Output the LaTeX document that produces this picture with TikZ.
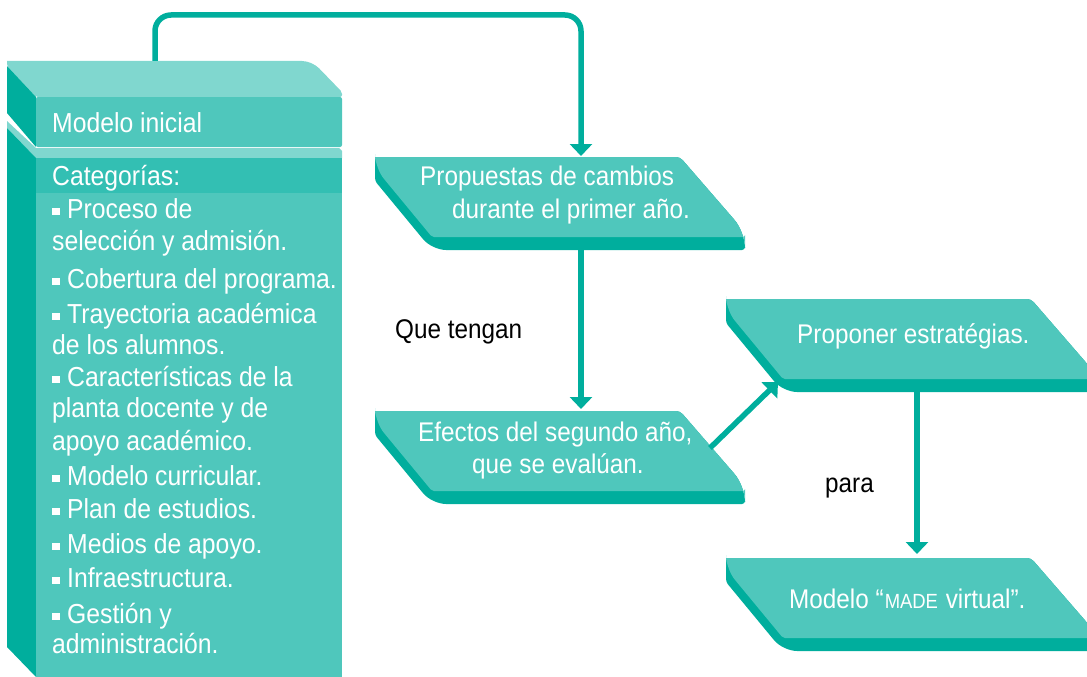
\documentclass[tikz,border=0pt]{standalone}
\usepackage{fontspec}
\setmainfont[FakeStretch=0.9]{Liberation Sans}
\usetikzlibrary{arrows.meta}
\definecolor{dk}{HTML}{00AE9D}
\definecolor{fr}{HTML}{4FC7BC}
\definecolor{lt}{HTML}{80D7CF}
\definecolor{bd}{HTML}{33BFB3}
\newcommand\fs{\fontsize{27}{31.5}\selectfont}
\newcommand\fsl{\fontsize{27.5}{31.5}\selectfont}
\newcommand\bul{\rule[3pt]{8pt}{7.5pt}\hspace{7pt}}
\newcommand\parpath{(0,11) -- (0,0) [rounded corners=4pt] -- (305,0) [rounded corners=16pt] -- (370,75) [rounded corners=2pt] -- (370,80) [rounded corners=2pt] -- (57,80) [rounded corners=14pt] -- (0,11) [rounded corners=3pt] -- cycle}
\newcommand\darkpath{(0,24) -- (0,0) [rounded corners=4pt] -- (305,0) [rounded corners=16pt] -- (370,75) [rounded corners=3pt] -- (370,93) [rounded corners=14pt] -- (57,93) [rounded corners=3pt] -- (0,24) -- cycle}
\newcommand\paral[2]{%
  \begin{scope}[shift={(#1,#2)}]
    \fill[dk] \darkpath;
    \fill[fr] \parpath;
  \end{scope}}
\tikzset{
  wt/.style={text=white, inner sep=0pt, font=\fs, anchor=base west},
  wl/.style={text=white, inner sep=0pt, font=\fsl, anchor=base west},
  bk/.style={text=black, inner sep=0pt, font=\fs, anchor=base west},
  conn/.style={draw=dk, line width=5.5pt, -{Triangle[width=22pt,length=12pt]}},
}
\begin{document}
\begin{tikzpicture}[x=1pt,y=-1pt]
\useasboundingbox (0,0) rectangle (1087,677);
\clip (0,0) rectangle (1087,677);
% ---- left block, part 2 (categories)
\fill[lt] (7,121) -- (36,148) -- (339,148) -- (342,151) -- (342,158) -- (36,158) -- (7,128) -- cycle;
\fill[dk] (7,128) -- (36,158) -- (36,677) -- (7,647) -- cycle;
\fill[bd] (36,158) rectangle (342,193);
\fill[fr] (36,193) rectangle (342,677);
% ---- left block, part 1 (Modelo inicial)
\fill[lt] (7,66) -- (7,61) [rounded corners=10pt] -- (312,61) [rounded corners=2pt] -- (342,92) -- (342,97) -- (36,97) -- cycle;
\fill[dk] (7,66) -- (36,97) -- (36,147) -- (7,113) -- cycle;
\fill[fr, rounded corners=2pt] (36,97) -- (342,97) -- (342,147) -- (36,147) -- cycle;
\node[wl] (mi) at (52,132) {Modelo inicial};
\node[wl] (cat) at (52,185) {Categorías:};
\node[wl] (c1) at (52,218) {\bul Proceso de};
\node[wl] (c1b) at (52,250) {selección y admisión.};
\node[wl] (c2) at (52,288) {\bul Cobertura del programa.};
\node[wl] (c3) at (52,323) {\bul Trayectoria académica};
\node[wl] (c3b) at (52,354) {de los alumnos.};
\node[wl] (c4) at (52,386) {\bul Características de la};
\node[wl] (c4b) at (52,417) {planta docente y de};
\node[wl] (c4c) at (52,450) {apoyo académico.};
\node[wl] (c5) at (52,485) {\bul Modelo curricular.};
\node[wl] (c6) at (52,518) {\bul Plan de estudios.};
\node[wl] (c7) at (52,553) {\bul Medios de apoyo.};
\node[wl] (c8) at (52,587) {\bul Infraestructura.};
\node[wl] (c9) at (52,623) {\bul Gestión y};
\node[wl] (c9b) at (52,653) {administración.};
% ---- parallelograms
\paral{375}{157}
\paral{375}{411}
\paral{726}{299}
\paral{726}{558}
\node[wt] (p1a) at (420,185) {Propuestas de cambios};
\node[wt] (p1b) at (452,218) {durante el primer año.};
\node[wt] (p2a) at (418,441) {Efectos del segundo año,};
\node[wt] (p2b) at (472,473) {que se evalúan.};
\node[wt] (p3) at (797,343) {Proponer estratégias.};
\node[wt] (p4) at (789,608) {Modelo “\hspace{1pt}{\fontsize{20.5}{20.5}\selectfont MADE}\hspace{1pt} virtual”.};
\node[bk] (l1) at (395,338) {Que tengan};
\node[bk] (l2) at (825,492) {para};
% ---- anchor points
\coordinate (b1top) at (155,61);
\coordinate (topy) at (300,15);
\coordinate (p1top) at (581,156);
\coordinate (p1bot) at (581,250);
\coordinate (p2top) at (581,409);
\coordinate (p2rt) at (710,448);
\coordinate (p3bl) at (778,382);
\coordinate (p3bot) at (917,392);
\coordinate (p4top) at (917,554);
% ---- connectors
\draw[conn, rounded corners=16pt] (b1top) |- (topy) -| (p1top);
\draw[conn] (p1bot) -- (p2top);
\draw[conn] (p2rt) -- (p3bl);
\draw[conn] (p3bot) -- (p4top);
\end{tikzpicture}
\end{document}
